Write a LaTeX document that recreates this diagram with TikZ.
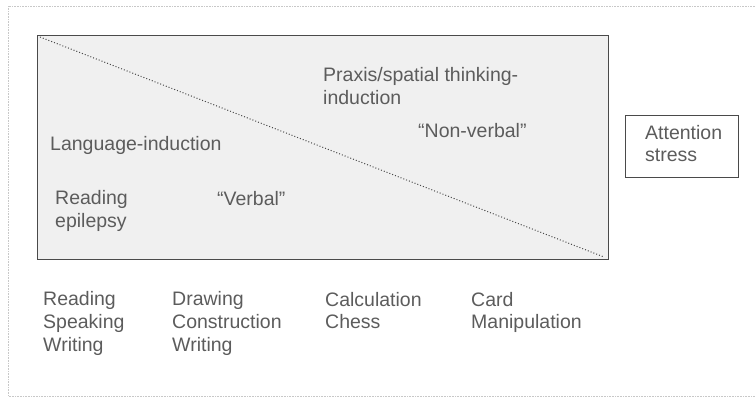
\documentclass[tikz,border=0pt]{standalone}
\usepackage{fontspec}
\setmainfont{Liberation Sans}
\definecolor{txt}{HTML}{5C5C5C}
\definecolor{edge}{HTML}{4A4A4A}
\definecolor{frame}{HTML}{C8C8C8}
\begin{document}
\begin{tikzpicture}[x=1pt,y=-1pt,
  lbl/.style={anchor=base west,inner sep=0pt,align=left,text=txt,
    font=\fontsize{19.5}{22.8}\selectfont},
  boxline/.style={draw=edge,line width=1.1pt},
  diag/.style={draw=edge,line width=1pt,dotted}]
\useasboundingbox (0,0) rectangle (755,398);
% faint outer frame
\draw[frame,line width=0.6pt,densely dotted] (755,6) -- (8,6) -- (8,396) -- (755,396);
% main box
\node[boxline,fill=black!6,minimum width=571pt,minimum height=224pt,anchor=north west,inner sep=0pt] (main) at (37,35) {};
\coordinate (dstart) at (40,37);
\coordinate (dend) at (604,257);
\draw[diag] (dstart) -- (dend);
% attention box
\node[draw=edge,line width=0.9pt,fill=white,minimum width=113pt,minimum height=62pt,anchor=north west,inner sep=0pt] (att) at (625,115) {};
% (base anchor of a multi-line node is the baseline of its last line)
\node[lbl] (atttxt) at (645,162) {Attention\\stress};
% texts inside main box
\node[lbl] (praxis) at (323,104.5) {Praxis/spatial thinking-\\induction};
\node[lbl] (nonverbal) at (418,138) {“Non-verbal”};
\node[lbl] (lang) at (50,151) {Language-induction};
\node[lbl] (readep) at (55,227.5) {Reading\\epilepsy};
\node[lbl] (verbal) at (217,206) {“Verbal”};
% bottom columns
\node[lbl] (col1) at (43,351.5) {Reading\\Speaking\\Writing};
\node[lbl] (col2) at (172,351.5) {Drawing\\Construction\\Writing};
\node[lbl] (col3) at (325,328.8) {Calculation\\Chess};
\node[lbl] (col4) at (471,328.8) {Card\\Manipulation};
\end{tikzpicture}
\end{document}
